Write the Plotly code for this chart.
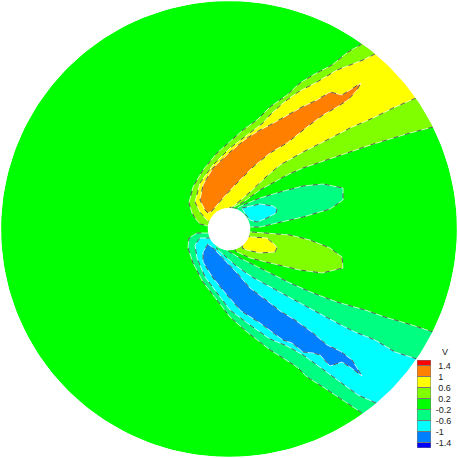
import numpy as np
import plotly.graph_objects as go

# contour outlines, x and y in image units (y grows downward)
# 0.2 level, wake above the cylinder
v02_top_x = [362, 348, 332, 313, 300, 287, 270, 257, 243, 230, 217, 203, 193, 189, 192, 195, 200, 208, 214]
v02_top_y = [44, 52, 65, 75, 83, 95, 107, 120, 130, 142, 153, 170, 187, 203, 213, 218, 224, 226, 226]
v02_bot_x = [433, 410, 390, 370, 350, 327, 303, 287, 270, 260, 242, 232, 226]
v02_bot_y = [127, 133, 139, 145, 152, 160, 168, 175, 184, 190, 203, 208, 212]
# 0.6 level
v06_top_x = [375, 363, 350, 337, 317, 298, 283, 270, 263, 247, 230, 213, 200, 195, 200, 205, 208, 214]
v06_top_y = [54, 60, 65, 70, 82, 92, 103, 115, 123, 135, 148, 165, 183, 202, 212, 218, 221, 222]
v06_bot_x = [416, 393, 373, 350, 327, 303, 280, 267, 250, 235, 226, 222]
v06_bot_y = [98, 108, 118, 128, 140, 152, 165, 176, 192, 205, 210, 212]
# 1.0 level, closed island
v10_x = [208, 205, 200, 203, 213, 230, 247, 260, 270, 283, 302, 317, 330, 342, 361, 357, 348, 337, 323, 307, 293, 287, 270, 253, 237, 223, 212]
v10_y = [213, 210, 200, 185, 168, 152, 138, 130, 125, 118, 107, 100, 92, 95, 83, 90, 100, 107, 115, 127, 138, 143, 153, 167, 183, 198, 211]
# -0.2 lobe, upper right of the cylinder
vm02_lobe_x = [233, 243, 260, 280, 303, 323, 343, 343, 330, 303, 277, 260, 250, 240]
vm02_lobe_y = [210, 205, 198, 192, 186, 184, 188, 200, 209, 217, 223, 227, 227, 226]
# -0.6 lobe
vm06_lobe_x = [242, 260, 273, 277, 276, 267, 257, 250, 246]
vm06_lobe_y = [208, 204, 206, 209, 213, 218, 222, 220, 215]
# 0.2 lobe, lower right of the cylinder
v02_lobe_x = [240, 253, 267, 290, 310, 330, 342, 343, 322, 300, 270, 250, 235]
v02_lobe_y = [231, 232, 233, 235, 240, 248, 257, 268, 273, 270, 263, 258, 251]
# 0.6 lobe
v06_lobe_x = [245, 252, 267, 275, 277, 275, 260, 247, 242]
v06_lobe_y = [236, 237, 238, 245, 248, 252, 253, 250, 248]
# -0.2 level, wake below the cylinder
vm02_bot_x = [362, 353, 340, 323, 307, 297, 283, 270, 260, 247, 230, 217, 203, 193, 188, 189, 197, 207, 214]
vm02_bot_y = [413, 407, 398, 387, 377, 367, 358, 350, 342, 332, 317, 300, 282, 263, 248, 238, 233, 233, 232]
vm02_top_x = [433, 412, 385, 365, 337, 313, 290, 270, 257, 240, 223, 218]
vm02_top_y = [332, 325, 317, 310, 302, 293, 283, 273, 267, 258, 248, 245]
# -0.6 level
vm06_bot_x = [376, 358, 347, 330, 317, 303, 287, 270, 260, 250, 230, 217, 205, 197, 195, 200, 208, 214]
vm06_bot_y = [403, 395, 387, 375, 365, 355, 346, 339, 332, 325, 310, 293, 277, 258, 245, 238, 238, 238]
vm06_top_x = [417, 395, 375, 355, 337, 313, 290, 267, 252, 235, 220, 216]
vm06_top_y = [359, 352, 340, 332, 323, 310, 298, 285, 277, 265, 252, 248]
# -1.0 level, closed island
vm10_x = [208, 203, 203, 213, 227, 241, 260, 270, 283, 292, 303, 313, 320, 330, 342, 350, 362, 352, 340, 327, 313, 295, 280, 270, 250, 237, 223, 213]
vm10_y = [244, 252, 262, 278, 295, 311, 323, 330, 340, 343, 352, 353, 355, 366, 362, 367, 376, 360, 351, 345, 333, 320, 311, 303, 288, 273, 258, 248]

# colour legend
levels = [-1.4, -1.0, -0.6, -0.2, 0.2, 0.6, 1.0, 1.4]
tick_labels = ["-1.4", "-1", "-0.6", "-0.2", "\u00a00.2", "\u00a00.6", "\u00a01", "\u00a01.4"]
band_low = [-1.6, -1.4, -1.0, -0.6, -0.2, 0.2, 0.6, 1.0, 1.4]
band_size = [0.2, 0.4, 0.4, 0.4, 0.4, 0.4, 0.4, 0.4, 0.2]
band_colors = ["#0000ff", "#0080ff", "#00ffff", "#00ff80", "#00ff00", "#80ff00", "#ffff00", "#ff8000", "#ff0000"]

cx, cy, r_out, r_in = 229, 229, 228, 21.3


def wake_region(x1, y1, x2, y2):
    # outline of a wake: pushes the open ends past the rim, the white ring trims them
    px = [cx + (x1[0] - cx) * 1.15] + x1 + x2[::-1] + [cx + (x2[0] - cx) * 1.15]
    py = [cy + (y1[0] - cy) * 1.15] + y1 + y2[::-1] + [cy + (y2[0] - cy) * 1.15]
    return px, py


fig = go.Figure()


def add_fill(x, y, color):
    fig.add_trace(go.Scatter(x=x, y=y, mode="lines", fill="toself", fillcolor=color,
                             line=dict(width=0), hoverinfo="skip", showlegend=False))


add_fill(*wake_region(v02_top_x, v02_top_y, v02_bot_x, v02_bot_y), "#80ff00")
add_fill(*wake_region(v06_top_x, v06_top_y, v06_bot_x, v06_bot_y), "#ffff00")
add_fill(v10_x, v10_y, "#ff8000")
add_fill(vm02_lobe_x, vm02_lobe_y, "#00ff80")
add_fill(vm06_lobe_x, vm06_lobe_y, "#00ffff")
add_fill(v02_lobe_x, v02_lobe_y, "#80ff00")
add_fill(v06_lobe_x, v06_lobe_y, "#ffff00")
add_fill(*wake_region(vm02_bot_x, vm02_bot_y, vm02_top_x, vm02_top_y), "#00ff80")
add_fill(*wake_region(vm06_bot_x, vm06_bot_y, vm06_top_x, vm06_top_y), "#00ffff")
add_fill(vm10_x, vm10_y, "#0080ff")

# contour lines: pale line with dark dashes on it
open_lines = [(v02_top_x, v02_top_y), (v02_bot_x, v02_bot_y), (v06_top_x, v06_top_y), (v06_bot_x, v06_bot_y),
              (vm02_bot_x, vm02_bot_y), (vm02_top_x, vm02_top_y), (vm06_bot_x, vm06_bot_y), (vm06_top_x, vm06_top_y)]
closed_lines = [(v10_x, v10_y), (vm02_lobe_x, vm02_lobe_y), (vm06_lobe_x, vm06_lobe_y),
                (v02_lobe_x, v02_lobe_y), (v06_lobe_x, v06_lobe_y), (vm10_x, vm10_y)]
all_lines = open_lines + [(x + x[:1], y + y[:1]) for x, y in closed_lines]
for x, y in all_lines:
    fig.add_trace(go.Scatter(x=x, y=y, mode="lines", line=dict(color="rgba(255,255,255,0.7)", width=1),
                             hoverinfo="skip", showlegend=False))
    fig.add_trace(go.Scatter(x=x, y=y, mode="lines", line=dict(color="rgba(40,40,40,0.75)", width=1, dash="5px,7px"),
                             hoverinfo="skip", showlegend=False))

# white ring hides everything beyond the rim (rim runs against the outer box)
t = np.radians(np.arange(225, 225 - 361, -1))
ring_x = [-60, 518, 518, -60, -60] + list(cx + r_out * np.cos(t))
ring_y = [-60, -60, 518, 518, -60] + list(cy + r_out * np.sin(t))
add_fill(ring_x, ring_y, "white")

fig.add_trace(go.Bar(x=["V"] * len(band_low), y=band_size, base=band_low, marker_color=band_colors,
                     marker_line=dict(color="#777777", width=1), width=1,
                     xaxis="x2", yaxis="y2", hoverinfo="skip", showlegend=False))

fig.update_layout(
    width=458, height=458, margin=dict(l=0, r=0, t=0, b=0),
    paper_bgcolor="white", plot_bgcolor="white", barmode="overlay",
    xaxis=dict(range=[0, 458], visible=False, domain=[0, 1]),
    yaxis=dict(range=[458, 0], visible=False, domain=[0, 1]),
    xaxis2=dict(domain=[417 / 458, 431 / 458], anchor="y2", visible=False, range=[-0.5, 0.5]),
    yaxis2=dict(domain=[10 / 458, 98 / 458], anchor="x2", side="right", range=[-1.6, 1.6],
                tickmode="array", tickvals=levels, ticktext=tick_labels,
                showgrid=False, zeroline=False, showline=False, ticks="outside", ticklen=2,
                tickcolor="rgba(0,0,0,0)", tickfont=dict(family="Liberation Sans", size=9, color="#222222")),
    shapes=[
        dict(type="circle", layer="below", x0=cx - r_out, x1=cx + r_out, y0=cy - r_out, y1=cy + r_out,
             fillcolor="#00ff00", line=dict(width=0)),
        dict(type="circle", layer="above", x0=cx - r_in, x1=cx + r_in, y0=cy - r_in, y1=cy + r_in,
             fillcolor="white", line=dict(width=0)),
    ],
    annotations=[dict(text="V", xref="paper", yref="paper", x=445 / 458, y=(458 - 352) / 458, showarrow=False,
                      xanchor="center", yanchor="middle",
                      font=dict(family="Liberation Sans", size=9, color="#222222"))],
)

fig.write_html("out.html", post_script="document.body.style.margin='0';", config=dict(displayModeBar=False))
